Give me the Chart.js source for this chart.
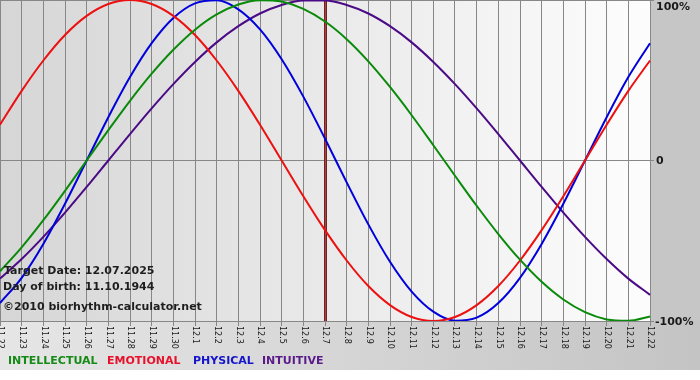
<!DOCTYPE html>
<html><head><meta charset="utf-8">
<script src="https://cdn.jsdelivr.net/npm/chart.js@4/dist/chart.umd.min.js"></script>
<style>html,body{margin:0;padding:0;background:#fff;}#wrap{width:700px;height:380px;position:relative;}</style>
</head><body><div id="wrap"><canvas id="c" width="700" height="380"></canvas></div>
<script>
const dayLabels = ["11.22","11.23","11.24","11.25","11.26","11.27","11.28","11.29","11.30",
  "12.1","12.2","12.3","12.4","12.5","12.6","12.7","12.8","12.9","12.10","12.11","12.12",
  "12.13","12.14","12.15","12.16","12.17","12.18","12.19","12.20","12.21","12.22"];
const intellectual = [-0.690,-0.541,-0.372,-0.189,0,0.189,0.372,0.541,0.690,0.815,0.910,0.972,0.999,0.990,0.945,0.866,0.756,0.618,0.458,0.282,0.095,-0.095,-0.282,-0.458,-0.618,-0.756,-0.866,-0.945,-0.990,-0.999,-0.972];
const emotional = [0.223,0.434,0.623,0.782,0.901,0.975,1.000,0.975,0.901,0.782,0.623,0.434,0.223,0,-0.223,-0.434,-0.623,-0.782,-0.901,-0.975,-1.000,-0.975,-0.901,-0.782,-0.623,-0.434,-0.223,0,0.223,0.434,0.623];
const physical = [-0.888,-0.731,-0.520,-0.270,0,0.270,0.520,0.731,0.888,0.979,0.998,0.942,0.817,0.631,0.398,0.136,-0.136,-0.398,-0.631,-0.817,-0.942,-0.998,-0.979,-0.888,-0.731,-0.520,-0.270,0,0.270,0.520,0.731];
const intuitive = [-0.736,-0.614,-0.476,-0.325,-0.165,0,0.165,0.325,0.476,0.614,0.736,0.837,0.916,0.969,0.997,0.997,0.969,0.916,0.837,0.736,0.614,0.476,0.325,0.165,0,-0.165,-0.325,-0.476,-0.614,-0.736,-0.837];
const yTickValues = [1, 0, -1];
const yTickLabels = ["100%", "0", "-100%"];
const targetDay = "12.7";
const infoLines = ["Target Date: 12.07.2025", "Day of birth: 11.10.1944", "\u00A92010 biorhythm-calculator.net"];
const seriesNames = ["INTELLECTUAL", "EMOTIONAL", "PHYSICAL", "INTUITIVE"];
const seriesColors = ["#0a8a0a", "#ec1010", "#0000dc", "#4b0a86"];
const legendColors = ["#168a16", "#e8102a", "#1414cc", "#5a1a8a"];

const GRID = "#878787";
const BOLD = "bold 11px 'DejaVu Sans', Verdana, sans-serif";

const decor = {
  id: "decor",
  beforeDraw(chart) {
    const ctx = chart.ctx, a = chart.chartArea;
    ctx.save();
    ctx.fillStyle = "#ffffff";
    ctx.fillRect(0, 0, chart.width, chart.height);
    let g = ctx.createLinearGradient(0, 0, chart.width, 0);
    g.addColorStop(0, "#e6e6e6");
    g.addColorStop(1, "#c4c4c4");
    ctx.fillStyle = g;
    ctx.fillRect(0, 0, chart.width, 370);
    ctx.fillStyle = "#c6c6c6";
    ctx.fillRect(a.right, 0, chart.width - a.right, a.bottom);
    g = ctx.createLinearGradient(a.left, 0, a.right, 0);
    g.addColorStop(0, "#d6d6d6");
    g.addColorStop(1, "#fdfdfd");
    ctx.fillStyle = g;
    ctx.fillRect(a.left, a.top, a.right - a.left, a.bottom - a.top);
    ctx.restore();
  },
  beforeDatasetsDraw(chart) {
    const ctx = chart.ctx, a = chart.chartArea;
    const x = Math.round(chart.scales.x.getPixelForValue(dayLabels.indexOf(targetDay)));
    ctx.save();
    ctx.fillStyle = "#6a2424";
    ctx.fillRect(x - 1, a.top, 3, a.bottom - a.top);
    ctx.fillStyle = "#b84040";
    ctx.fillRect(x, a.top, 1, a.bottom - a.top);
    ctx.restore();
  },
  afterDraw(chart) {
    const ctx = chart.ctx, a = chart.chartArea;
    const xs = chart.scales.x, ys = chart.scales.y;
    ctx.save();
    ctx.font = "8px 'DejaVu Sans', Verdana, sans-serif";
    ctx.fillStyle = "#1a1a1a";
    ctx.textAlign = "left";
    ctx.textBaseline = "middle";
    dayLabels.forEach((lab, i) => {
      const x = xs.getPixelForValue(i);
      ctx.save();
      ctx.translate(x + 0.5, a.bottom + 5);
      ctx.rotate(Math.PI / 2);
      ctx.fillText(lab, 0, 0);
      ctx.restore();
    });
    ctx.font = BOLD;
    ctx.fillStyle = "#1a1a1a";
    ctx.textBaseline = "middle";
    yTickValues.forEach((v, i) => {
      let y = ys.getPixelForValue(v);
      if (v === 1) y += 7; else y += 1;
      ctx.fillText(yTickLabels[i], a.right + (v < 0 ? 5 : 6), y);
    });
    ctx.fillStyle = "#1e1e1e";
    ctx.fillText(infoLines[0], a.left + 4, 271);
    ctx.fillText(infoLines[1], a.left + 3, 287);
    ctx.fillText(infoLines[2], a.left + 3, 307);
    const lx = [8, 107, 193, 262];
    seriesNames.forEach((n, i) => {
      ctx.fillStyle = legendColors[i];
      ctx.fillText(n, lx[i], 361);
    });
    ctx.restore();
  }
};

const mk = (label, data, color) => ({
  label, data, borderColor: color, backgroundColor: color,
  borderWidth: 2, pointRadius: 0, cubicInterpolationMode: "monotone", fill: false
});

new Chart(document.getElementById("c"), {
  type: "line",
  data: {
    labels: dayLabels,
    datasets: [
      mk(seriesNames[0], intellectual, seriesColors[0]),
      mk(seriesNames[1], emotional, seriesColors[1]),
      mk(seriesNames[2], physical, seriesColors[2]),
      mk(seriesNames[3], intuitive, seriesColors[3])
    ]
  },
  options: {
    responsive: false,
    devicePixelRatio: 1,
    animation: false,
    layout: { padding: 0 },
    plugins: { legend: { display: false }, tooltip: { enabled: false } },
    scales: {
      x: {
        offset: false,
        grid: { color: GRID, lineWidth: 1, drawTicks: true, tickLength: 5, tickColor: GRID },
        border: { color: GRID },
        ticks: { display: false },
        afterFit: s => { s.height = 59; }
      },
      y: {
        position: "right",
        min: -1, max: 1,
        grid: { color: GRID, lineWidth: 1, drawTicks: true, tickLength: 4, tickColor: GRID },
        border: { color: GRID },
        ticks: { display: false, stepSize: 1 },
        afterFit: s => { s.width = 50; }
      }
    }
  },
  plugins: [decor]
});
</script></body></html>
